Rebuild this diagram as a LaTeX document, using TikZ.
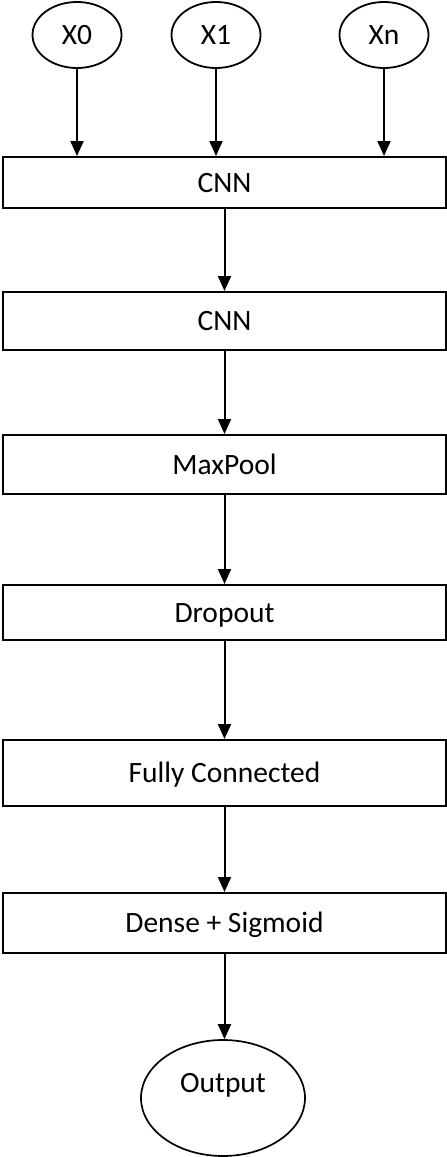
\documentclass[tikz,border=0pt]{standalone}
\usepackage{fontspec}
\setmainfont{Carlito}
\usetikzlibrary{shapes.geometric,arrows.meta}

\tikzset{
  txt/.style={font=\fontsize{29.5}{34}\selectfont, text height=19pt, text depth=0pt},
  layer/.style={txt, draw, line width=2pt, rectangle, minimum width=443pt,
    inner sep=0pt},
  inp/.style={txt, draw, line width=1.8pt, ellipse, minimum width=89pt,
    minimum height=66pt, inner sep=0pt},
  outp/.style={draw, line width=1.7pt, ellipse, minimum width=164pt,
    minimum height=116pt, inner sep=0pt},
  arr/.style={line width=2pt, -{Triangle[width=13pt,length=15pt]}}
}

\begin{document}
\begin{tikzpicture}[x=1pt, y=-1pt]
  \useasboundingbox (0,0) rectangle (447,1157);

  % inputs
  \node[inp] (x0) at (77,35) {X0};
  \node[inp] (x1) at (216,35) {X1};
  \node[inp] (xn) at (384,35) {Xn};

  % layer stack
  \node[layer, minimum height=51pt] (cnn1) at (224.5,182.5) {CNN};
  \node[layer, minimum height=58pt] (cnn2) at (224.5,321) {CNN};
  \node[layer, minimum height=59pt] (pool) at (224.5,464.5) {MaxPool};
  \node[layer, minimum height=55pt] (drop) at (224.5,612.5) {Dropout};
  \node[layer, minimum height=66pt] (fc)   at (224.5,773) {Fully Connected};
  \node[layer, minimum height=60pt] (dense) at (224.5,923) {Dense + Sigmoid};

  % output ellipse, its label set in the upper half
  \node[outp] (out) at (223,1098) {};
  \node[txt, inner sep=0pt] (outlbl) at (223,1083) {Output};

  % connectors
  \draw[arr] (x0) -- (x0 |- cnn1.north);
  \draw[arr] (x1) -- (x1 |- cnn1.north);
  \draw[arr] (xn) -- (xn |- cnn1.north);
  \draw[arr] (cnn1) -- (cnn2);
  \draw[arr] (cnn2) -- (pool);
  \draw[arr] (pool) -- (drop);
  \draw[arr] (drop) -- (fc);
  \draw[arr] (fc) -- (dense);
  \draw[arr] (dense) -- (dense |- out.north);
\end{tikzpicture}
\end{document}
